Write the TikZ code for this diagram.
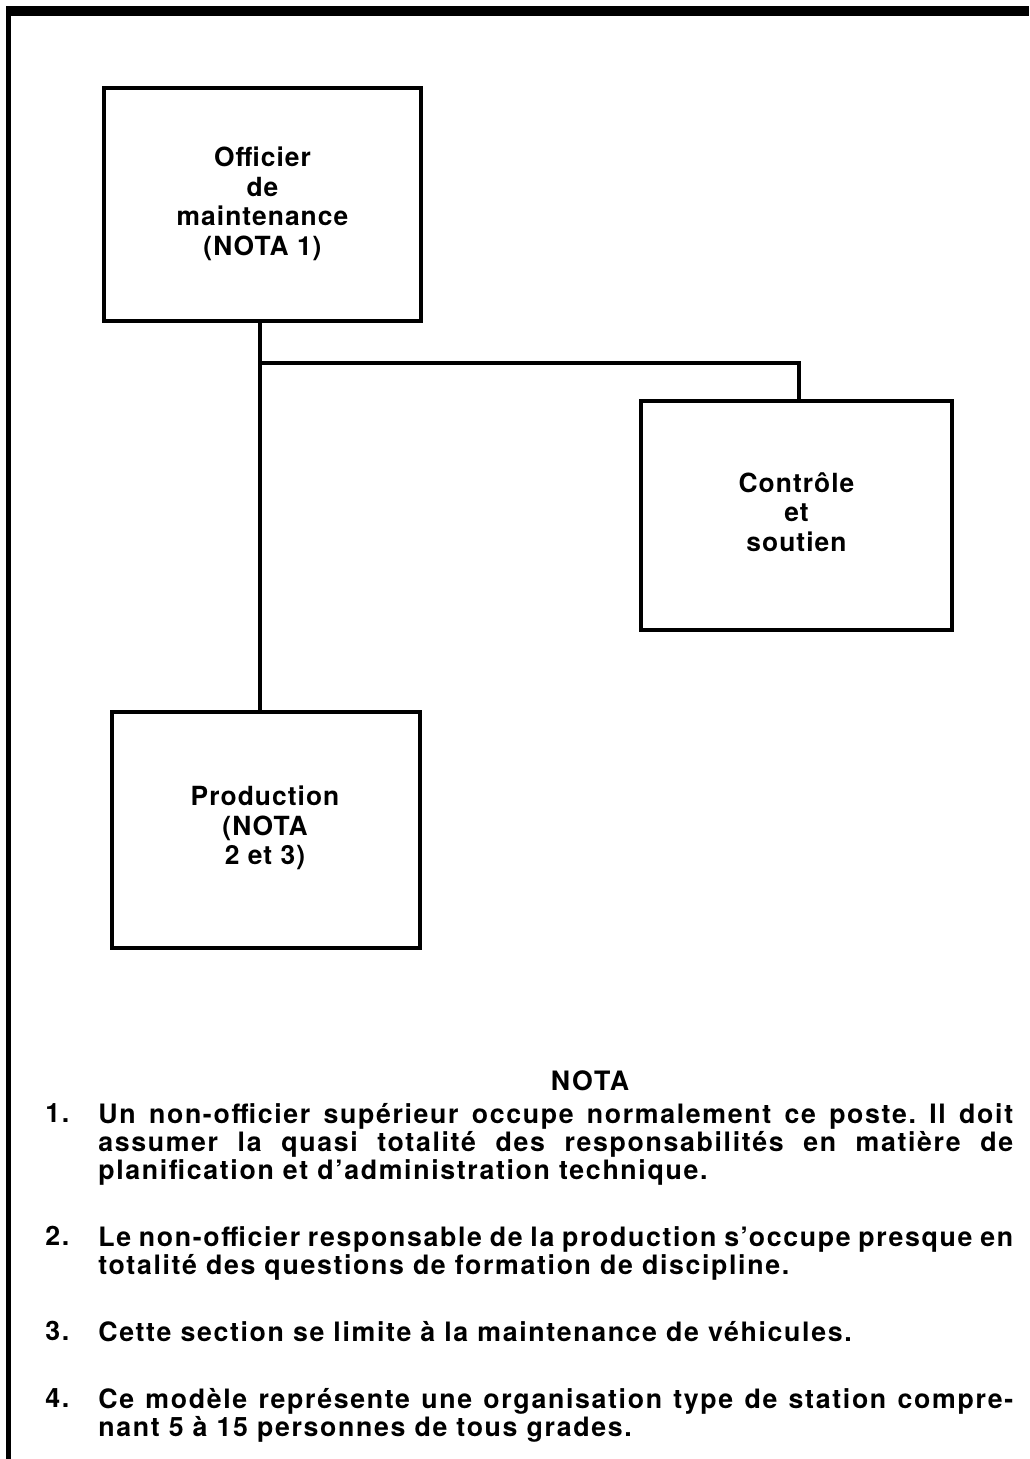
\documentclass[tikz,border=0pt]{standalone}
\usepackage{fontspec}
\setmainfont{TeX Gyre Heros}[LetterSpace=4]
\newfontfamily\notefont{TeX Gyre Heros}[LetterSpace=6.2]
\newcommand\nobreakhy{\frenchspacing\hyphenpenalty=10000 \exhyphenpenalty=10000 }
\begin{document}
\begin{tikzpicture}[x=0.02cm,y=-0.02cm,
  boxtxt/.style={align=center,font=\fontsize{15}{16.8}\selectfont\bfseries},
  frameline/.style={line width=1.9pt},
  link/.style={line width=1.9pt},
  notetxt/.style={anchor=north west,inner sep=0pt,text width=18.3cm,align=justify,
     font=\notefont\fontsize{15.2}{15.9}\selectfont\bfseries},
  notenum/.style={anchor=north west,inner sep=0pt,font=\notefont\fontsize{15.2}{15.9}\selectfont\bfseries}]
\useasboundingbox (0,0) rectangle (1029,1459);
\fill[white] (0,0) rectangle (1029,1459);
% frame
\fill[black] (6,6) rectangle (1029,16);
\fill[black] (6,6) rectangle (11,1459);
% boxes
\draw[frameline] (104,88) rectangle (421,321);
\node[boxtxt] (off) at (262.5,204) {Officier\\de\\maintenance\\(NOTA 1)};
\coordinate (offB) at (260,321);
\draw[frameline] (641,401) rectangle (952,630);
\node[boxtxt] (ctl) at (796.5,512) {Contrôle\\et\\soutien};
\coordinate (ctlT) at (799,401);
\draw[frameline] (112,712) rectangle (420,948);
\node[boxtxt] (prod) at (265,828) {Production\\(NOTA\\2 et 3)};
\coordinate (prodT) at (260,712);
% connectors
\coordinate (jn) at (260,363);
\draw[link] (offB) -- (prodT);
\draw[link] (jn) -| (ctlT);
% notes
\node[font=\notefont\fontsize{15.2}{16}\selectfont\bfseries] (nota) at (590,1081) {NOTA};
\node[notenum] (n1) at (45,1103) {1.};
\node[notetxt] (t1) at (98,1103) {\nobreakhy Un non-officier supérieur occupe normalement ce poste. Il doit\linebreak assumer la quasi totalité des responsabilités en matière de\linebreak planification et d’administration technique.};
\node[notenum] (n2) at (45,1226) {2.};
\node[notetxt] (t2) at (98,1226) {\nobreakhy Le non-officier responsable de la production s’occupe presque en\linebreak totalité des questions de formation de discipline.};
\node[notenum] (n3) at (45,1321) {3.};
\node[notetxt] (t3) at (98,1321) {\nobreakhy Cette section se limite à la maintenance de véhicules.};
\node[notenum] (n4) at (45,1388) {4.};
\node[notetxt] (t4) at (98,1388) {\frenchspacing Ce modèle représente une organisation type de station compre-\linebreak nant 5 à 15 personnes de tous grades.};
\end{tikzpicture}
\end{document}
